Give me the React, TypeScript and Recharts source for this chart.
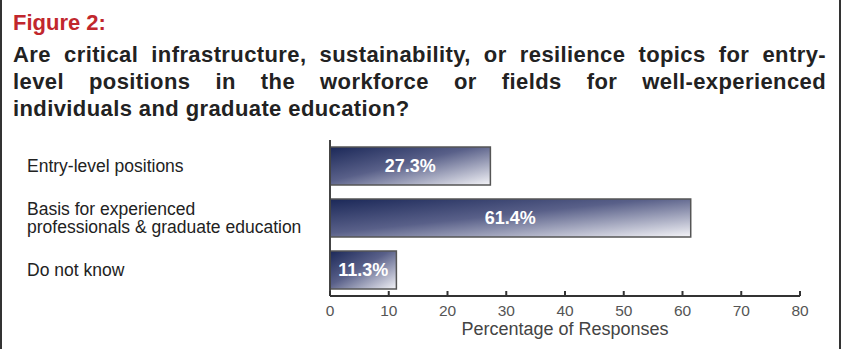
import React from 'react';
import { BarChart, Bar, XAxis, YAxis, LabelList } from 'recharts';

const categories = ['Entry-level positions', 'Basis for experienced\nprofessionals & graduate education', 'Do not know'];
const values = [27.3, 61.4, 11.3];
const xTicks = [0, 10, 20, 30, 40, 50, 60, 70, 80];
const figureLabel = 'Figure 2:';
const questionLines = [
  'Are critical infrastructure, sustainability, or resilience topics for entry-',
  'level positions in the workforce or fields for well-experienced',
  'individuals and graduate education?',
];
const xTitle = 'Percentage of Responses';

const data = categories.map((c, i) => ({ name: c, value: values[i] }));
const FONT = '"Liberation Sans", Arial, Helvetica, sans-serif';

const YTick = (props: any) => {
  const { y, payload } = props;
  const lines = String(payload.value).split('\n');
  const lh = 18.5;
  const start = y - ((lines.length - 1) * lh) / 2;
  return (
    <g>
      {lines.map((l: string, i: number) => (
        <text key={i} x={27} y={start + i * lh} textAnchor="start" dominantBaseline="central"
          fontSize={17.5} fill="#222" fontFamily={FONT}>{l}</text>
      ))}
    </g>
  );
};

const XTick = (props: any) => {
  const { x, y, payload } = props;
  return (
    <g>
      <line x1={x} x2={x} y1={y} y2={y - 5} stroke="#333" strokeWidth={2} />
      <text x={x} y={y + 14} textAnchor="middle" dominantBaseline="central" fontSize={15.5} fill="#555" fontFamily={FONT}>
        {payload.value}
      </text>
    </g>
  );
};

export default function App() {
  return (
    <div style={{ position: 'absolute', left: 0, top: 0, width: 843, height: 349, background: '#fff', fontFamily: FONT }}>
      <div style={{ position: 'absolute', left: 0, top: 0, width: 2, height: 349, background: '#333' }} />
      <div style={{ position: 'absolute', left: 839, top: 0, width: 2, height: 349, background: '#333' }} />
      <div style={{ position: 'absolute', left: 13, top: 9, fontSize: 22, lineHeight: '27px', fontWeight: 'bold', color: '#c1272d', whiteSpace: 'nowrap' }}>
        {figureLabel}
      </div>
      {questionLines.map((l, i) => (
        <div key={i} style={{
          position: 'absolute', left: 13, top: 40.6 + i * 27, width: 813, fontSize: 22, lineHeight: '27px',
          fontWeight: 'bold', color: '#222', letterSpacing: 0.4, whiteSpace: 'nowrap',
          textAlign: i < 2 ? 'justify' : 'left', textAlignLast: i < 2 ? 'justify' : 'left',
        } as any}>
          {l}
        </div>
      ))}
      <div style={{ position: 'absolute', left: 0, top: 0 }}>
        <BarChart width={843} height={349} layout="vertical" data={data}
          margin={{ top: 140, right: 43, bottom: 0, left: 0 }} barSize={38}>
          <defs>
            <linearGradient id="barGrad" x1="0" y1="0" x2="1" y2="1">
              <stop offset="0" stopColor="#1b2858" />
              <stop offset="0.45" stopColor="#596089" />
              <stop offset="1" stopColor="#f4f4f8" />
            </linearGradient>
          </defs>
          <XAxis type="number" domain={[0, 80]} ticks={xTicks} height={53} tickSize={0} tickMargin={0}
            axisLine={{ stroke: '#333', strokeWidth: 2 }} tickLine={false} tick={<XTick />} interval={0}
            label={{
              content: (p: any) => (
                <text x={p.viewBox.x + p.viewBox.width / 2} y={329} textAnchor="middle" dominantBaseline="central"
                  fontSize={18} fill="#444" fontFamily={FONT}>{xTitle}</text>
              ),
            }} />
          <YAxis type="category" dataKey="name" width={330} tickSize={0} tickMargin={0}
            axisLine={{ stroke: '#444', strokeWidth: 2 }} tickLine={false} tick={<YTick />} interval={0} />
          <Bar dataKey="value" fill="url(#barGrad)" stroke="#555" strokeWidth={1.5} isAnimationActive={false}>
            <LabelList dataKey="value" position="center" formatter={(v: any) => `${Number(v).toFixed(1)}%`}
              fill="#fff" fontSize={18} fontWeight="bold" fontFamily={FONT} />
          </Bar>
        </BarChart>
      </div>
    </div>
  );
}
